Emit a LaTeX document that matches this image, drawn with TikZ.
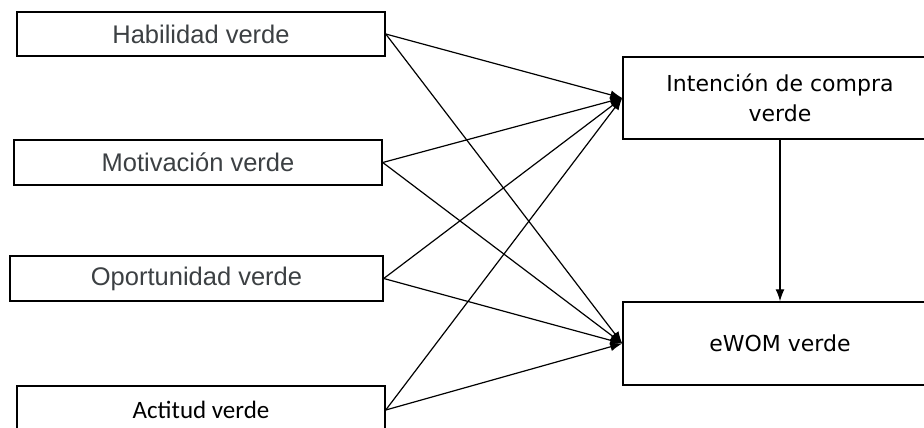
\documentclass[tikz,border=0pt]{standalone}
\usepackage{fontspec}
\usetikzlibrary{arrows.meta}
\newfontfamily\robofont{Liberation Sans}
\newfontfamily\verdfont{DejaVu Sans}
\newfontfamily\califont{Carlito}
\definecolor{txtgrey}{HTML}{3C4043}
\begin{document}
\begin{tikzpicture}[x=1pt,y=-1pt,
  boxbase/.style={draw=black, line width=1.5pt, inner sep=0pt, rectangle},
  leftbox/.style={boxbase, text=txtgrey, font=\robofont\fontsize{25.5}{30}\selectfont},
  rightbox/.style={boxbase, align=center, font=\verdfont\fontsize{22}{30}\selectfont},
  arr/.style={line width=1.2pt, -{Latex[length=12pt,width=9pt]}}
]
\useasboundingbox (0,0) rectangle (924,428);
\node[leftbox, minimum width=368pt, minimum height=44pt] (hab) at (201,34) {Habilidad verde};
\node[leftbox, minimum width=368pt, minimum height=45pt] (mot) at (198,162.5) {Motivación verde};
\node[leftbox, minimum width=373pt, minimum height=45pt] (opo) at (196.5,278.5) {Oportunidad verde};
\node[boxbase, minimum width=368pt, minimum height=48pt, font=\califont\fontsize{25}{30}\selectfont] (act) at (201,410) {Actitud verde};
\node[rightbox, minimum width=314pt, minimum height=82pt] (int) at (780,98) {Intención de compra\\verde};
\node[rightbox, minimum width=314pt, minimum height=83pt] (ewom) at (780,343.5) {eWOM verde};
\foreach \s in {hab,mot,opo,act}{
  \draw[arr] (\s.east) -- (int.west);
  \draw[arr] (\s.east) -- (ewom.west);
}
\draw[arr] (int.south) -- (ewom.north);
\end{tikzpicture}
\end{document}
